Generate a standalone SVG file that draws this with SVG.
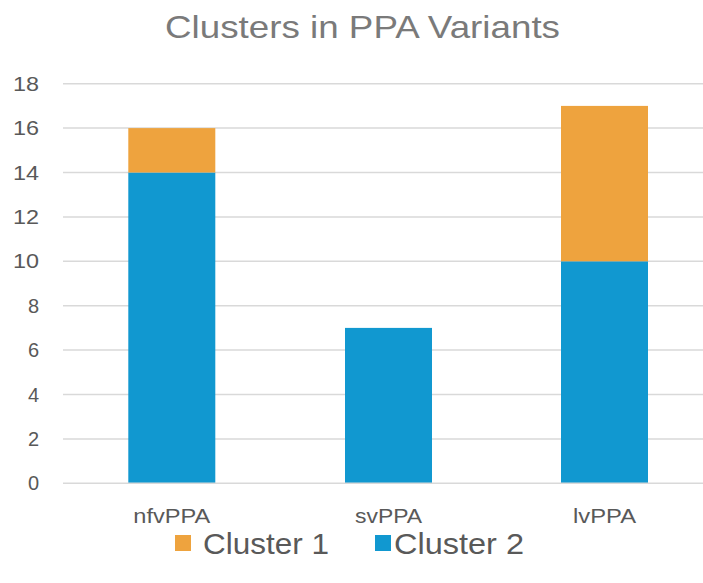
<svg xmlns="http://www.w3.org/2000/svg" width="703" height="583" viewBox="0 0 703 583">
  <style>
    .grid { stroke: #D9D9D9; stroke-width: 1.5; }
    .tick { font-family: "Liberation Sans", Arial, sans-serif; font-size: 20px; fill: #595959; text-anchor: end; }
    .cat { font-family: "Liberation Sans", Arial, sans-serif; font-size: 19.5px; fill: #595959; text-anchor: middle; }
    .legend { font-family: "Liberation Sans", Arial, sans-serif; font-size: 30px; fill: #595959; }
    .title { font-family: "Liberation Sans", Arial, sans-serif; font-size: 32px; fill: #7A7A7A; text-anchor: middle; }
    .c1 { fill: #EEA33E; }
    .c2 { fill: #1198D0; }
  </style>

  <rect width="703" height="583" fill="#FFFFFF"/>

  <!-- chart title -->
  <text class="title" x="362.5" y="38" textLength="395" lengthAdjust="spacingAndGlyphs">Clusters in PPA Variants</text>

  <!-- horizontal gridlines, 2 units apart (22.2 px per unit) -->
  <g id="gridlines">
    <line class="grid" x1="63" y1="83.7" x2="703" y2="83.7"/>
    <line class="grid" x1="63" y1="128.1" x2="703" y2="128.1"/>
    <line class="grid" x1="63" y1="172.5" x2="703" y2="172.5"/>
    <line class="grid" x1="63" y1="216.9" x2="703" y2="216.9"/>
    <line class="grid" x1="63" y1="261.3" x2="703" y2="261.3"/>
    <line class="grid" x1="63" y1="305.7" x2="703" y2="305.7"/>
    <line class="grid" x1="63" y1="350.1" x2="703" y2="350.1"/>
    <line class="grid" x1="63" y1="394.5" x2="703" y2="394.5"/>
    <line class="grid" x1="63" y1="438.9" x2="703" y2="438.9"/>
  </g>

  <!-- value axis labels -->
  <g id="y-axis">
    <text class="tick" x="39" y="90.8" textLength="26" lengthAdjust="spacingAndGlyphs">18</text>
    <text class="tick" x="39" y="135.2" textLength="26" lengthAdjust="spacingAndGlyphs">16</text>
    <text class="tick" x="39" y="179.6" textLength="26" lengthAdjust="spacingAndGlyphs">14</text>
    <text class="tick" x="39" y="224" textLength="26" lengthAdjust="spacingAndGlyphs">12</text>
    <text class="tick" x="39" y="268.4" textLength="26" lengthAdjust="spacingAndGlyphs">10</text>
    <text class="tick" x="39" y="312.8">8</text>
    <text class="tick" x="39" y="357.2">6</text>
    <text class="tick" x="39" y="401.6">4</text>
    <text class="tick" x="39" y="446">2</text>
    <text class="tick" x="39" y="490.4">0</text>
  </g>

  <!-- stacked bars -->
  <g id="bar-nfvPPA">
    <rect class="c2" x="128.3" y="172.5" width="87" height="310.8"/>
    <rect class="c1" x="128.3" y="128.1" width="87" height="44.4"/>
  </g>
  <g id="bar-svPPA">
    <rect class="c2" x="345" y="327.9" width="87" height="155.4"/>
  </g>
  <g id="bar-lvPPA">
    <rect class="c2" x="561" y="261.3" width="87" height="222"/>
    <rect class="c1" x="561" y="105.9" width="87" height="155.4"/>
  </g>

  <!-- category axis -->
  <line id="baseline" class="grid" x1="63" y1="483.3" x2="703" y2="483.3"/>
  <g id="x-axis">
    <text class="cat" x="171.8" y="523" textLength="77" lengthAdjust="spacingAndGlyphs">nfvPPA</text>
    <text class="cat" x="388.5" y="523" textLength="67" lengthAdjust="spacingAndGlyphs">svPPA</text>
    <text class="cat" x="604.5" y="523" textLength="63" lengthAdjust="spacingAndGlyphs">lvPPA</text>
  </g>

  <!-- legend -->
  <g id="legend">
    <g id="legend-cluster1">
      <rect class="c1" x="175" y="535" width="16" height="16"/>
      <text class="legend" x="203" y="554" textLength="126" lengthAdjust="spacingAndGlyphs">Cluster 1</text>
    </g>
    <g id="legend-cluster2">
      <rect class="c2" x="375" y="535" width="16" height="16"/>
      <text class="legend" x="394" y="554" textLength="130" lengthAdjust="spacingAndGlyphs">Cluster 2</text>
    </g>
  </g>
</svg>
